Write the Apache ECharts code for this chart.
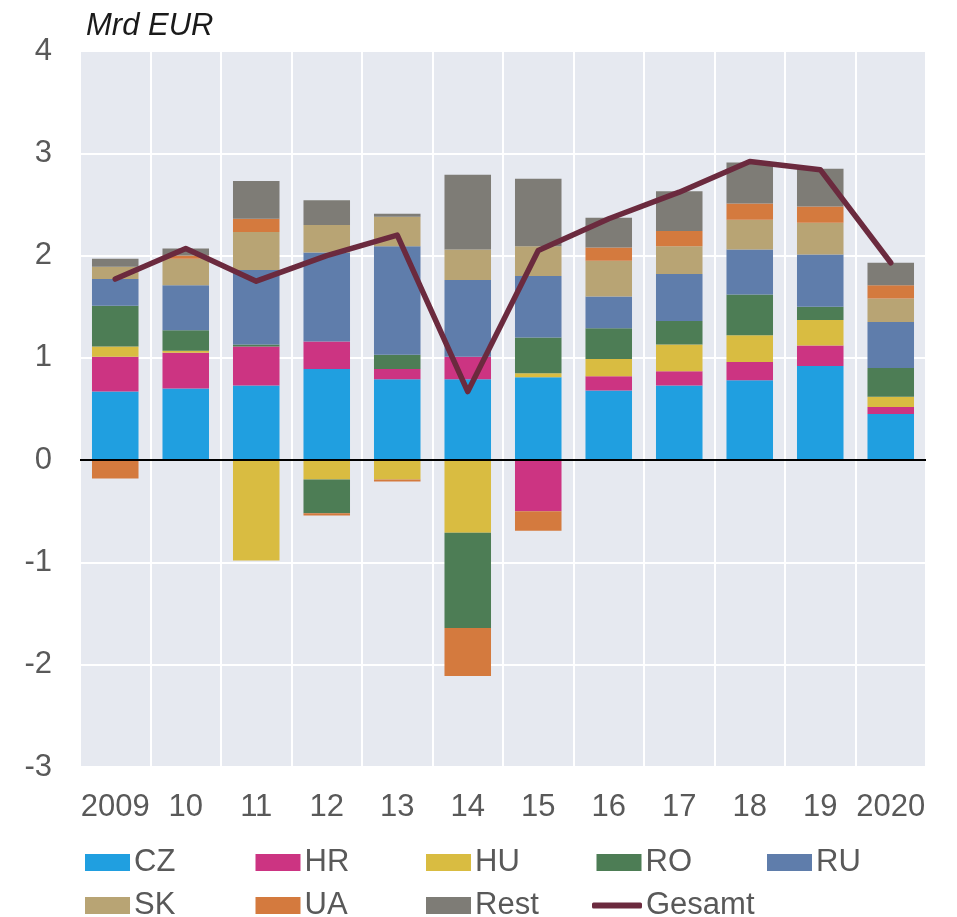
<!DOCTYPE html>
<html>
<head>
<meta charset="utf-8">
<script src="https://cdn.jsdelivr.net/npm/echarts@6/dist/echarts.min.js"></script>
<style>
  html, body { margin: 0; padding: 0; background: #fff; }
  #chart { width: 957px; height: 917px; }
</style>
</head>
<body>
<div id="chart"></div>
<script>
// data (Mrd EUR)
var years = ['2009', '10', '11', '12', '13', '14', '15', '16', '17', '18', '19', '2020'];
var cz   = [0.67, 0.70, 0.73, 0.89, 0.79, 0.79, 0.81, 0.68, 0.73, 0.78, 0.92, 0.45];
var hr   = [0.34, 0.35, 0.38, 0.27, 0.10, 0.22, -0.50, 0.14, 0.14, 0.18, 0.20, 0.07];
var hu   = [0.10, 0.02, -0.98, -0.19, -0.19, -0.71, 0.04, 0.17, 0.26, 0.26, 0.25, 0.10];
var ro   = [0.40, 0.20, 0.02, -0.33, 0.14, -0.93, 0.35, 0.30, 0.23, 0.40, 0.13, 0.28];
var ru   = [0.26, 0.44, 0.73, 0.87, 1.06, 0.75, 0.60, 0.31, 0.46, 0.44, 0.51, 0.45];
var sk   = [0.12, 0.26, 0.37, 0.27, 0.29, 0.30, 0.29, 0.35, 0.27, 0.29, 0.31, 0.23];
var ua   = [-0.18, 0.03, 0.13, -0.02, -0.02, -0.47, -0.19, 0.13, 0.15, 0.16, 0.16, 0.13];
var rest = [0.08, 0.07, 0.37, 0.24, 0.03, 0.73, 0.66, 0.29, 0.39, 0.40, 0.37, 0.22];
var gesamt = [1.77, 2.07, 1.75, 2.0, 2.2, 0.67, 2.05, 2.36, 2.62, 2.92, 2.84, 1.93];

var barNames = ['CZ', 'HR', 'HU', 'RO', 'RU', 'SK', 'UA', 'Rest'];
var barData = [cz, hr, hu, ro, ru, sk, ua, rest];
var barColors = ['#209FE0', '#CC3482', '#D9BC41', '#4D7D55', '#5F7DAB', '#B8A474', '#D47A3E', '#7E7C76'];
var lineColor = '#6B2A3E';

var font = 'Liberation Sans, Arial, sans-serif';
var mychart = echarts.init(document.getElementById('chart'));

var series = barNames.map(function (name, i) {
    return {
        name: name,
        type: 'bar',
        stack: 'total',
        barWidth: '66%',
        itemStyle: { color: barColors[i] },
        data: barData[i]
    };
});
series.push({
    name: 'Gesamt',
    type: 'line',
    symbol: 'none',
    z: 5,
    itemStyle: { color: lineColor },
    lineStyle: { color: lineColor, width: 5.5, cap: 'round', join: 'round' },
    data: gesamt,
    /*Nulllinie*/
    markLine: {
        silent: true,
        symbol: 'none',
        label: { show: false },
        lineStyle: { color: '#000', width: 2, type: 'solid' },
        data: [{ yAxis: 0 }]
    }
});

/*Legende: eine Komponente je Eintrag, 5 pro Zeile*/
var legendNames = barNames.concat(['Gesamt']);
var legends = legendNames.map(function (name, i) {
    var isLine = name === 'Gesamt';
    return {
        data: [name],
        left: (isLine ? 592 : 85) + (i % 5) * 170.5 - (isLine ? 3 * 170.5 : 0),
        top: i < 5 ? 847 : 890,
        icon: isLine ? 'roundRect' : 'rect',
        itemWidth: isLine ? 50 : 45,
        itemHeight: isLine ? 6 : 17,
        itemGap: 0,
        padding: 0,
        selectedMode: false,
        textStyle: { fontFamily: font, fontSize: 31, color: '#595959', padding: [0, 0, 0, -1] }
    };
});

option = {
    animation: false,
    title: {
        text: 'Mrd EUR',
        left: 81,
        top: 6,
        textStyle: { fontFamily: font, fontSize: 31, fontStyle: 'italic', fontWeight: 'normal', color: '#1a1a1a' }
    },
    legend: legends,
    grid: {
        left: 80,
        right: 31,
        top: 51,
        bottom: 150,
        show: true,
        backgroundColor: '#E6E9F0',
        borderWidth: 0
    },
    xAxis: {
        type: 'category',
        data: years,
        axisLine: { show: false },
        axisTick: { show: false },
        axisLabel: { fontFamily: font, fontSize: 31, color: '#595959', margin: 25, interval: 0 },
        splitLine: { show: true, interval: 0, lineStyle: { color: '#fff', width: 2 } }
    },
    yAxis: {
        type: 'value',
        min: -3,
        max: 4,
        interval: 1,
        axisLine: { show: false },
        axisTick: { show: false },
        axisLabel: { fontFamily: font, fontSize: 31, color: '#595959', margin: 28 },
        splitLine: { lineStyle: { color: '#fff', width: 2 } }
    },
    series: series
};
mychart.setOption(option);
</script>
</body>
</html>
